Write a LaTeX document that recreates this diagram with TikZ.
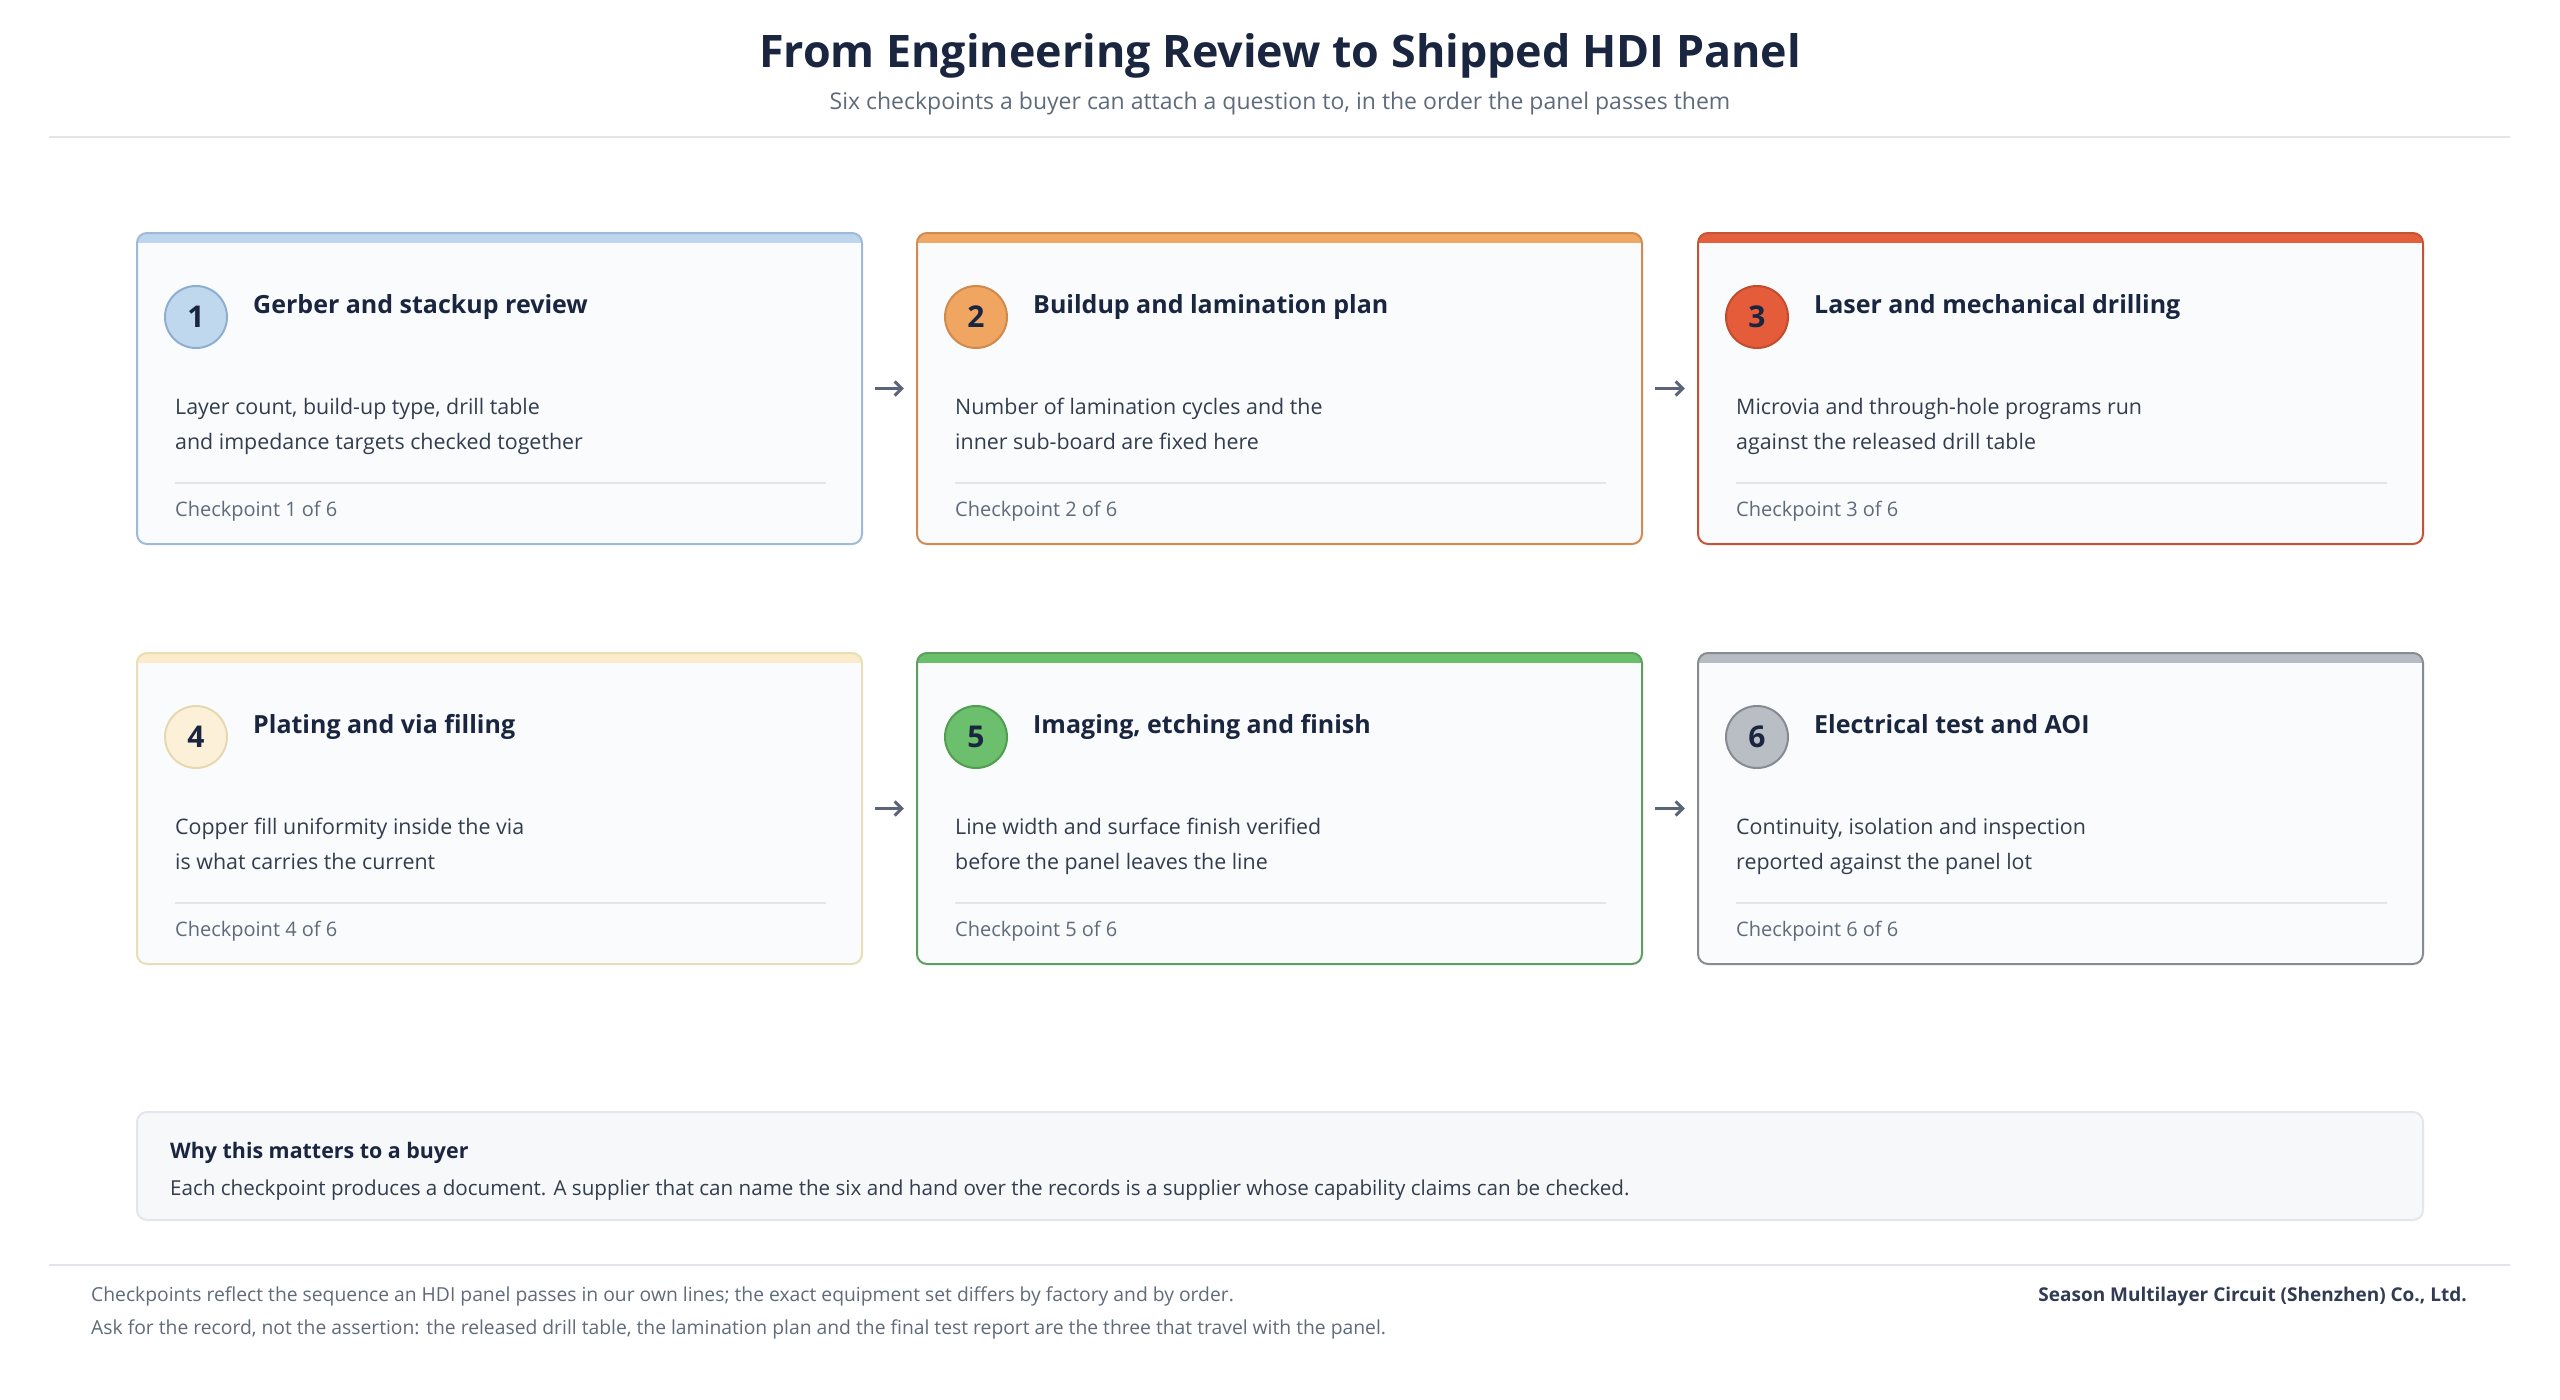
\documentclass[tikz,border=0pt]{standalone}
\usepackage{fontspec}
\setmainfont{Open Sans}
\usetikzlibrary{arrows.meta,calc}
\definecolor{ink}{HTML}{1A2540}
\definecolor{desc}{HTML}{333D4D}
\definecolor{muted}{HTML}{5F6B7A}
\definecolor{rule}{HTML}{E2E5EA}
\definecolor{cardbg}{HTML}{F9FBFD}
\definecolor{arrowc}{HTML}{5B6478}
\definecolor{boxbg}{HTML}{F6F8FA}
\definecolor{boxline}{HTML}{E3E7EC}
% card colours: bar, border, circle fill, circle border
\definecolor{bA}{HTML}{BDD6EE}\definecolor{lA}{HTML}{9DBAD6}\definecolor{fA}{HTML}{C0D8EE}\definecolor{oA}{HTML}{8EAED0}
\definecolor{bB}{HTML}{F0A865}\definecolor{lB}{HTML}{D28A50}\definecolor{fB}{HTML}{F0A560}\definecolor{oB}{HTML}{D08A4E}
\definecolor{bC}{HTML}{E4603D}\definecolor{lC}{HTML}{C65434}\definecolor{fC}{HTML}{E45C3A}\definecolor{oC}{HTML}{C24C2E}
\definecolor{bD}{HTML}{FBEBCB}\definecolor{lD}{HTML}{E9DEB5}\definecolor{fD}{HTML}{FCF1D8}\definecolor{oD}{HTML}{E6D8B0}
\definecolor{bE}{HTML}{6ABF6B}\definecolor{lE}{HTML}{5E9F5F}\definecolor{fE}{HTML}{6CBF6C}\definecolor{oE}{HTML}{4F9E50}
\definecolor{bF}{HTML}{B7BBC2}\definecolor{lF}{HTML}{878B93}\definecolor{fF}{HTML}{B9BDC4}\definecolor{oF}{HTML}{868A92}
\tikzset{
  cardbox/.style={rectangle, rounded corners=10pt, minimum width=725pt, minimum height=311pt, inner sep=0pt, fill=cardbg},
  numcirc/.style={circle, minimum size=62pt, inner sep=0pt, line width=2pt, text=ink, font=\fontsize{30}{30}\selectfont\bfseries},
  cardtitle/.style={anchor=base west, inner sep=0pt, text=ink, font=\fontsize{25}{30}\selectfont\bfseries},
  cardtext/.style={anchor=base west, inner sep=0pt, text=desc, font=\fontsize{21.4}{26}\selectfont},
  cardfoot/.style={anchor=base west, inner sep=0pt, text=muted, font=\fontsize{20}{24}\selectfont},
  flowarrow/.style={draw=arrowc, line width=3pt, -{Straight Barb[length=7pt,width=14pt,line width=3pt]}, shorten <=13pt, shorten >=13pt},
}
% \cardd{name}{x-left}{y-top}{letter}{num}{title}{line1}{line2}
\newcommand{\cardd}[8]{%
  \node[cardbox] (#1) at (#2+362.5,#3+155.5) {};
  \begin{scope}
    \clip[rounded corners=10pt] (#2,#3) rectangle (#2+725,#3+311);
    \fill[b#4] (#2,#3) rectangle (#2+725,#3+10);
  \end{scope}
  \draw[l#4, line width=2pt, rounded corners=10pt] (#2,#3) rectangle (#2+725,#3+311);
  \node[numcirc, fill=f#4, draw=o#4] (#1n) at (#2+59,#3+84) {#5};
  \node[cardtitle] (#1t) at (#2+116,#3+80) {#6};
  \node[cardtext] (#1a) at (#2+38,#3+181) {#7};
  \node[cardtext] (#1b) at (#2+38,#3+216) {#8};
  \draw[rule, line width=1.5pt] (#2+38,#3+250) -- (#2+689,#3+250);
  \node[cardfoot] (#1f) at (#2+38,#3+283) {Checkpoint #5 of 6};
}
\begin{document}
\begin{tikzpicture}[x=1pt,y=-1pt]
\useasboundingbox[fill=white] (0,0) rectangle (2560,1400);
% header
\node[text=ink, font=\fontsize{44.8}{52}\selectfont\bfseries, inner sep=0pt, anchor=base] (title) at (1280,67) {From Engineering Review to Shipped HDI Panel};
\node[text=muted, font=\fontsize{23}{28}\selectfont, inner sep=0pt, anchor=base] (subtitle) at (1280,109) {Six checkpoints a buyer can attach a question to, in the order the panel passes them};
\draw[rule, line width=2pt] (49,137) -- (2510,137);
% cards
\cardd{c1}{137}{233}{A}{1}{Gerber and stackup review}{Layer count, build-up type, drill table}{and impedance targets checked together}
\cardd{c2}{917}{233}{B}{2}{Buildup and lamination plan}{Number of lamination cycles and the}{inner sub-board are fixed here}
\cardd{c3}{1698}{233}{C}{3}{Laser and mechanical drilling}{Microvia and through-hole programs run}{against the released drill table}
\cardd{c4}{137}{653}{D}{4}{Plating and via filling}{Copper fill uniformity inside the via}{is what carries the current}
\cardd{c5}{917}{653}{E}{5}{Imaging, etching and finish}{Line width and surface finish verified}{before the panel leaves the line}
\cardd{c6}{1698}{653}{F}{6}{Electrical test and AOI}{Continuity, isolation and inspection}{reported against the panel lot}
% arrows
\draw[flowarrow] (c1.east) -- (c2.west);
\draw[flowarrow] (c2.east) -- (c3.west);
\draw[flowarrow] (c4.east) -- (c5.west);
\draw[flowarrow] (c5.east) -- (c6.west);
% why box
\node[rectangle, rounded corners=10pt, fill=boxbg, draw=boxline, line width=2pt, minimum width=2286pt, minimum height=108pt, inner sep=0pt] (why) at (1280,1166) {};
\node[anchor=base west, inner sep=0pt, text=ink, font=\fontsize{21.4}{26}\selectfont\bfseries] (whyt) at (170,1158) {Why this matters to a buyer};
\node[anchor=base west, inner sep=0pt, text=desc, font=\fontsize{20.6}{26}\selectfont] (whyb) at (170,1195) {Each checkpoint produces a document. A supplier that can name the six and hand over the records is a supplier whose capability claims can be checked.};
% footer
\draw[rule, line width=2pt] (49,1265) -- (2510,1265);
\node[anchor=base west, inner sep=0pt, text=muted, font=\fontsize{19.3}{23}\selectfont] (f1) at (91,1301) {Checkpoints reflect the sequence an HDI panel passes in our own lines; the exact equipment set differs by factory and by order.};
\node[anchor=base west, inner sep=0pt, text=muted, font=\fontsize{19.3}{23}\selectfont] (f2) at (91,1334) {Ask for the record, not the assertion: the released drill table, the lamination plan and the final test report are the three that travel with the panel.};
\node[anchor=base east, inner sep=0pt, text=ink!90, font=\fontsize{19}{23}\selectfont\bfseries] (f3) at (2467,1301) {Season Multilayer Circuit (Shenzhen) Co., Ltd.};
\end{tikzpicture}
\end{document}
